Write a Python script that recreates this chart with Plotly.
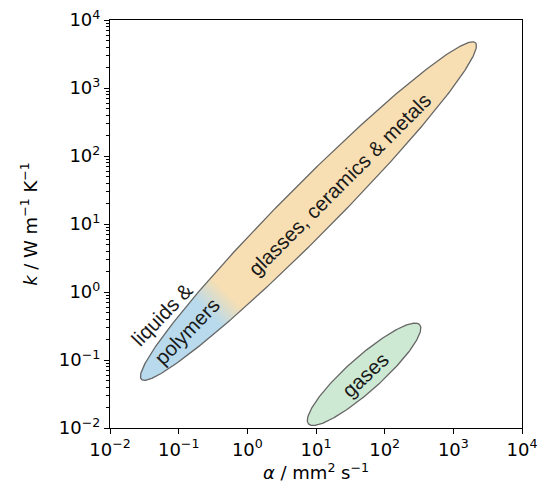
import numpy as np
import plotly.graph_objects as go

# ---- data (log10 space geometry of the property regions) ----
regions = ["glasses, ceramics & metals / liquids & polymers", "gases"]
centers_log_alpha = [0.89, 1.70]      # log10(alpha / mm2 s-1)
centers_log_k = [1.19, -1.21]         # log10(k / W m-1 K-1)
semi_major = [3.47, 1.09]             # decades
semi_minor = [0.375, 0.25]            # decades
angles_deg = [45.5, 42.0]

x_tick_vals = [1e-2, 1e-1, 1e0, 1e1, 1e2, 1e3, 1e4]
x_tick_text = ["10<sup>−2</sup>", "10<sup>−1</sup>", "10<sup>0</sup>", "10<sup>1</sup>",
               "10<sup>2</sup>", "10<sup>3</sup>", "10<sup>4</sup>"]
y_tick_vals = x_tick_vals
y_tick_text = x_tick_text

labels = ["glasses, ceramics & metals", "polymers", "liquids &", "gases"]
label_log_x = [1.335, -0.89, -1.25, 1.72]
label_log_y = [1.588, -0.575, -0.33, -1.22]
label_angle = [-45, -46, -46, -43]

BLUE = (184, 218, 236)
ORANGE = (248, 223, 179)
GREEN = (205, 233, 211)
EDGE = "#666666"


def to_log(cx, cy, th, u, v):
    return cx + u * np.cos(th) - v * np.sin(th), cy + u * np.sin(th) + v * np.cos(th)


def strip(cx, cy, a, b, th, u0, u1, n=60):
    u = np.linspace(u0, u1, n)
    v = b * np.sqrt(np.clip(1 - (u / a) ** 2, 0, None))
    uu = np.concatenate([u, u[::-1]])
    vv = np.concatenate([v, -v[::-1]])
    lx, ly = to_log(cx, cy, th, uu, vv)
    return 10 ** lx, 10 ** ly


def ellipse(cx, cy, a, b, th, n=400):
    t = np.linspace(0, 2 * np.pi, n)
    lx, ly = to_log(cx, cy, th, a * np.cos(t), b * np.sin(t))
    return 10 ** lx, 10 ** ly


def rgb(c):
    return "rgb(%d,%d,%d)" % c


fig = go.Figure()

# big region: orange with blue low end and gradient
cx, cy, a, b = centers_log_alpha[0], centers_log_k[0], semi_major[0], semi_minor[0]
th = np.radians(angles_deg[0])
x, y = ellipse(cx, cy, a, b, th)
fig.add_trace(go.Scatter(x=x, y=y, fill="toself", fillcolor=rgb(ORANGE), mode="lines",
                         line=dict(width=0), hoverinfo="skip", showlegend=False))
u_start, u_end = -2.08, -1.68
x, y = strip(cx, cy, a, b, th, -a, u_start, 200)
fig.add_trace(go.Scatter(x=x, y=y, fill="toself", fillcolor=rgb(BLUE), mode="lines",
                         line=dict(width=0.8, color=rgb(BLUE)), hoverinfo="skip", showlegend=False))
nseg = 14
edges = np.linspace(u_start, u_end, nseg + 1)
for i in range(nseg):
    f = (i + 0.5) / nseg
    c = tuple(int(round(BLUE[j] + (ORANGE[j] - BLUE[j]) * f)) for j in range(3))
    x, y = strip(cx, cy, a, b, th, edges[i], edges[i + 1], 10)
    fig.add_trace(go.Scatter(x=x, y=y, fill="toself", fillcolor=rgb(c), mode="lines",
                             line=dict(width=0.8, color=rgb(c)), hoverinfo="skip", showlegend=False))
x, y = ellipse(cx, cy, a, b, th)
fig.add_trace(go.Scatter(x=x, y=y, mode="lines", line=dict(width=1.3, color=EDGE),
                         hoverinfo="skip", showlegend=False))

# gases
cx, cy, a, b = centers_log_alpha[1], centers_log_k[1], semi_major[1], semi_minor[1]
th = np.radians(angles_deg[1])
x, y = ellipse(cx, cy, a, b, th)
fig.add_trace(go.Scatter(x=x, y=y, fill="toself", fillcolor=rgb(GREEN), mode="lines",
                         line=dict(width=1.3, color=EDGE), hoverinfo="skip", showlegend=False))

for t, lx, ly, ang in zip(labels, label_log_x, label_log_y, label_angle):
    fig.add_annotation(x=lx, y=ly, xref="x", yref="y", text=t, textangle=ang,
                       showarrow=False, font=dict(size=20.5, color="#1a1a1a",
                                                  family="Liberation Sans, Arial, sans-serif"))

axis_common = dict(type="log", showgrid=False, zeroline=False, showline=True, mirror=True,
                   linecolor="black", linewidth=1.2, ticks="outside", ticklen=5, tickwidth=1,
                   tickcolor="black", tickmode="array", automargin=False,
                   tickfont=dict(size=18, color="black"))

minor_vals = [m * 10.0 ** e for e in range(-2, 4) for m in range(2, 10)]

fig.update_xaxes(range=[-2, 4], tickvals=x_tick_vals, ticktext=x_tick_text,
                 title=dict(text="<i>α</i> / mm<sup>2</sup> s<sup>−1</sup>", font=dict(size=18, color="black"),
                            standoff=2),
                 **axis_common)
fig.update_yaxes(range=[-2, 4], tickvals=y_tick_vals, ticktext=y_tick_text,
                 minor=dict(tickmode="array", tickvals=minor_vals, ticks="outside", ticklen=2.5,
                            tickcolor="black", tickwidth=0.8, showgrid=False),
                 title=dict(text="<i>k</i> / W m<sup>−1</sup> K<sup>−1</sup>", font=dict(size=18, color="black"),
                            standoff=16),
                 **axis_common)

fig.update_layout(width=539, height=490, margin=dict(l=110, r=17, t=20, b=62),
                  plot_bgcolor="white", paper_bgcolor="white",
                  font=dict(family="DejaVu Sans", color="black"))

fig.write_html("out.html", config={"displayModeBar": False},
               post_script="document.body.style.margin='0';document.body.style.padding='0';")
